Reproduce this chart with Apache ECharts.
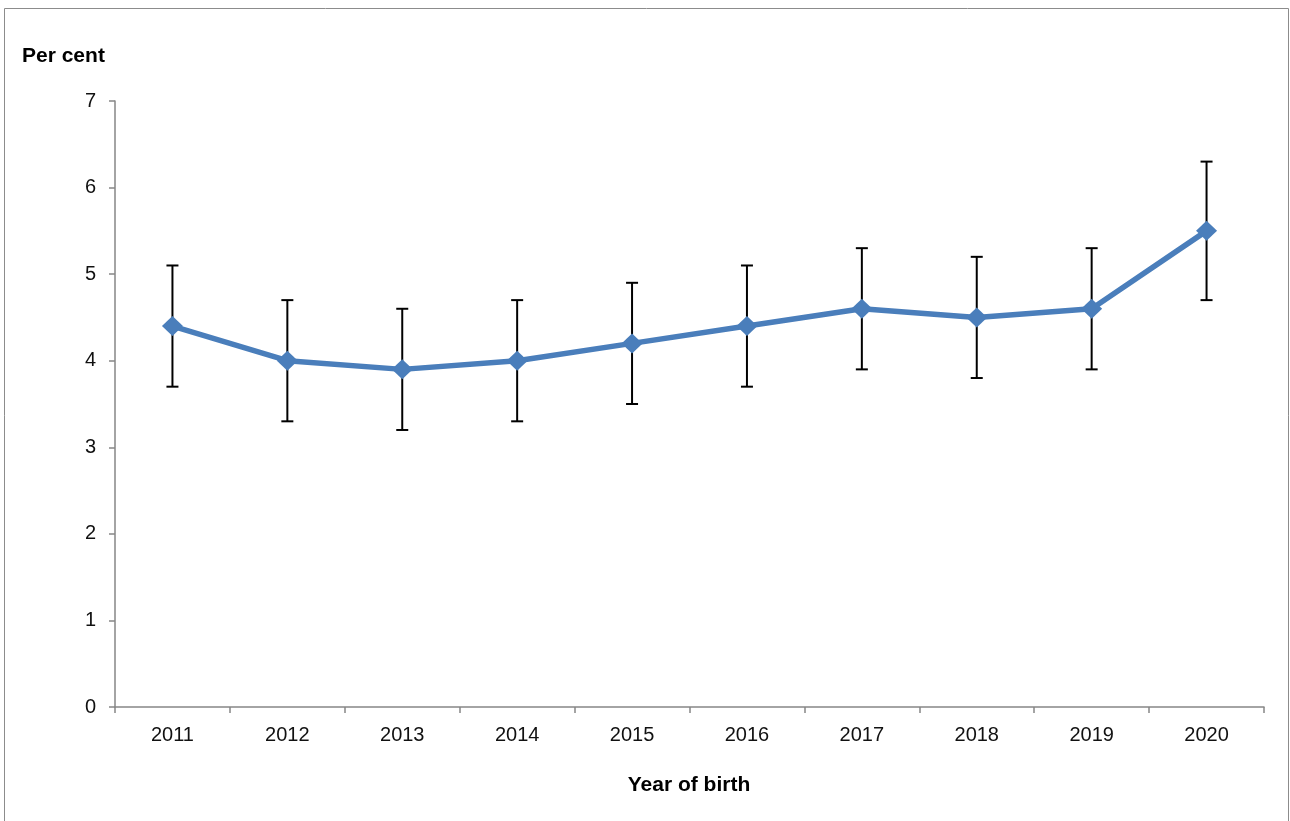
<!DOCTYPE html>
<html><head><meta charset="utf-8">
<script src="https://cdn.jsdelivr.net/npm/echarts@6/dist/echarts.min.js"></script>
<style>html,body{margin:0;padding:0;background:#fff}#c{width:1290px;height:821px}</style>
</head><body><div id="c"></div>
<script>
var years = ['2011','2012','2013','2014','2015','2016','2017','2018','2019','2020'];
var values = [4.4, 4.0, 3.9, 4.0, 4.2, 4.4, 4.6, 4.5, 4.6, 5.5];
var lower = [3.7, 3.3, 3.2, 3.3, 3.5, 3.7, 3.9, 3.8, 3.9, 4.7];
var upper = [5.1, 4.7, 4.6, 4.7, 4.9, 5.1, 5.3, 5.2, 5.3, 6.3];
var errData = years.map(function(y,i){return [i, lower[i], upper[i]];});
var font = 'Liberation Sans, Arial, Helvetica, sans-serif';
var chart = echarts.init(document.getElementById('c'));
chart.setOption({
  animation:false,
  grid:{left:115,right:26,top:101,bottom:114},
  graphic:[
    {type:'rect',shape:{x:4.5,y:8.5,width:1284,height:900},style:{fill:'none',stroke:'#8c8c8c',lineWidth:1}},
    {type:'text',x:22,y:56,style:{text:'Per cent',font:'bold 21px '+font,fill:'#000',textVerticalAlign:'middle'}},
    {type:'text',x:689,y:785,style:{text:'Year of birth',font:'bold 21px '+font,fill:'#000',textAlign:'center',textVerticalAlign:'middle'}}
  ],
  xAxis:{type:'category',data:years,boundaryGap:true,
    axisLine:{lineStyle:{color:'#868686',width:1.5}},
    axisTick:{show:true,length:6,lineStyle:{color:'#868686',width:1.5}},
    axisLabel:{color:'#111',fontSize:20,fontFamily:font,margin:18},
    splitLine:{show:false}},
  yAxis:{type:'value',min:0,max:7,interval:1,
    axisLine:{show:true,lineStyle:{color:'#868686',width:1.5}},
    axisTick:{show:true,length:6,lineStyle:{color:'#868686',width:1.5}},
    axisLabel:{color:'#111',fontSize:20,fontFamily:font,margin:19},
    splitLine:{show:false}},
  series:[
    {type:'custom',z:1,data:errData,
     renderItem:function(params,api){
       var x=api.value(0);
       var lo=api.coord([x,api.value(1)]);
       var hi=api.coord([x,api.value(2)]);
       var hw=6;
       var st={stroke:'#000',lineWidth:2};
       return {type:'group',children:[
         {type:'line',shape:{x1:lo[0],y1:lo[1],x2:hi[0],y2:hi[1]},style:st},
         {type:'line',shape:{x1:lo[0]-hw,y1:lo[1],x2:lo[0]+hw,y2:lo[1]},style:st},
         {type:'line',shape:{x1:hi[0]-hw,y1:hi[1],x2:hi[0]+hw,y2:hi[1]},style:st}
       ]};
     }},
    {type:'line',z:3,data:values,symbol:'diamond',symbolSize:[21,20],
     lineStyle:{color:'#4a7ebb',width:5.5},
     itemStyle:{color:'#4a7ebb'}}
  ]
});
</script></body></html>
